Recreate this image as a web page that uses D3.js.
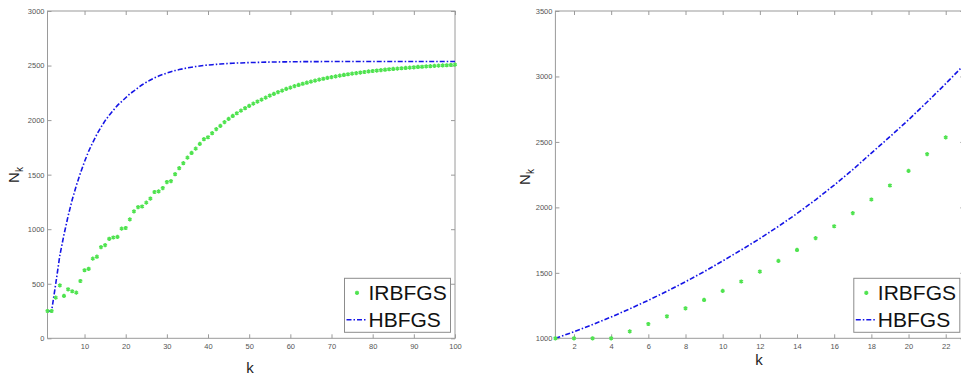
<!DOCTYPE html>
<html>
<head>
<meta charset="utf-8">
<script src="https://cdn.jsdelivr.net/npm/d3@7"></script>
<style>
  body { margin: 0; background: #fff; }
  svg { display: block; font-family: "Liberation Sans", Arial, sans-serif; }
</style>
</head>
<body>
<svg width="961" height="375"></svg>
<script>
// values, k = 1, 2, 3 ...
let irbfgsLeft = [
  250, 250, 373, 485, 389, 449, 431, 419, 525, 624,
  637, 730, 748, 836, 854, 912, 924, 930, 1005, 1011,
  1090, 1163, 1202, 1208, 1244, 1281, 1341, 1347, 1377, 1432,
  1441, 1504, 1559, 1605, 1656, 1699, 1739, 1782, 1825, 1843,
  1880, 1917, 1947, 1981, 2011, 2038, 2063, 2087, 2109, 2130,
  2151, 2170, 2188, 2206, 2225, 2240, 2256, 2270, 2286, 2298,
  2311, 2322, 2333, 2343, 2353, 2362, 2371, 2379, 2387, 2394,
  2401, 2408, 2414, 2420, 2426, 2431, 2436, 2441, 2446, 2450,
  2454, 2458, 2462, 2466, 2469, 2472, 2475, 2478, 2481, 2484,
  2487, 2489, 2492, 2494, 2497, 2499, 2501, 2503, 2505, 2508
];
let hbfgsLeft = [
  250, 250, 500, 760, 950, 1120, 1270, 1400, 1515, 1620,
  1715, 1795, 1870, 1935, 1995, 2045, 2090, 2135, 2170, 2205,
  2240, 2267, 2297, 2324, 2347, 2368, 2387, 2404, 2418, 2432,
  2443, 2454, 2463, 2471, 2479, 2485, 2491, 2496, 2501, 2505,
  2508, 2511, 2514, 2517, 2519, 2521, 2523, 2524, 2526, 2527,
  2528, 2529, 2530, 2531, 2532, 2533, 2533, 2534, 2534, 2535,
  2535, 2535, 2536, 2536, 2536, 2536, 2536, 2537, 2537, 2537,
  2537, 2537, 2537, 2537, 2537, 2537, 2537, 2537, 2537, 2537,
  2537, 2537, 2537, 2537, 2537, 2537, 2537, 2537, 2537, 2537,
  2537, 2537, 2537, 2537, 2537, 2537, 2537, 2537, 2537, 2537
];
let irbfgsRight = [
  1000, 1000, 1000, 1000, 1053, 1109, 1168, 1229, 1293, 1362,
  1434, 1510, 1591, 1675, 1765, 1856, 1956, 2060, 2167, 2279,
  2407, 2535, 2669
];
let hbfgsRight = [
  1000, 1050, 1105, 1163, 1225, 1290, 1359, 1432, 1509, 1591,
  1675, 1762, 1855, 1953, 2058, 2170, 2288, 2415, 2540, 2669,
  2805, 2945, 3090
];

let legendNames = ['IRBFGS', 'HBFGS'];
let leftXTicks = [10, 20, 30, 40, 50, 60, 70, 80, 90, 100];
let leftYTicks = [0, 500, 1000, 1500, 2000, 2500, 3000];
let rightXTicks = [2, 4, 6, 8, 10, 12, 14, 16, 18, 20, 22];
let rightYTicks = [1000, 1500, 2000, 2500, 3000, 3500];

let green = '#4fe34f';
let blue = '#1515e6';
let axisGrey = '#9a9a9a';

let svg = d3.select('svg');

drawPanel({
  id: 'left', x0: 47.5, x1: 455, y0: 11, y1: 338.3,
  xDomain: [1, 100], yDomain: [0, 3000],
  xTicks: leftXTicks, yTicks: leftYTicks,
  dots: irbfgsLeft, line: hbfgsLeft,
  kLabel: [250, 373], nLabel: [19, 175]
});
drawPanel({
  id: 'right', x0: 555.4, x1: 964.3, y0: 11, y1: 338.3,
  xDomain: [1, 23], yDomain: [1000, 3500],
  xTicks: rightXTicks, yTicks: rightYTicks,
  dots: irbfgsRight, line: hbfgsRight,
  kLabel: [759, 365], nLabel: [530, 177]
});

function drawPanel(p) {
  let x = d3.scaleLinear().domain(p.xDomain).range([p.x0, p.x1]);
  let y = d3.scaleLinear().domain(p.yDomain).range([p.y1, p.y0]);
  let g = svg.append('g');
  let fmt = d3.format('d');

  /* clip to the axes box */
  svg.append('clipPath').attr('id', 'clip-' + p.id)
    .append('rect').attr('x', p.x0).attr('y', p.y0)
    .attr('width', p.x1 - p.x0).attr('height', p.y1 - p.y0);

  /* inward ticks on all four sides, labels only bottom and left */
  g.append('g').attr('transform', 'translate(0,' + p.y1 + ')')
    .call(d3.axisBottom(x).tickValues(p.xTicks).tickFormat(fmt).tickSize(-4).tickSizeOuter(0).tickPadding(5));
  g.append('g').attr('transform', 'translate(' + p.x0 + ',0)')
    .call(d3.axisLeft(y).tickValues(p.yTicks).tickFormat(fmt).tickSize(-4).tickSizeOuter(0).tickPadding(3));
  g.append('g').attr('transform', 'translate(0,' + p.y0 + ')')
    .call(d3.axisTop(x).tickValues(p.xTicks).tickSize(-4).tickSizeOuter(0).tickFormat(''));
  g.append('g').attr('transform', 'translate(' + p.x1 + ',0)')
    .call(d3.axisRight(y).tickValues(p.yTicks).tickSize(-4).tickSizeOuter(0).tickFormat(''));

  g.selectAll('.domain').remove();
  g.selectAll('.tick line').attr('stroke', axisGrey);
  g.selectAll('.tick text').attr('fill', '#555').attr('font-size', 7.5)
    .attr('font-family', '"Liberation Sans", Arial, sans-serif');

  g.append('rect').attr('x', p.x0).attr('y', p.y0)
    .attr('width', p.x1 - p.x0).attr('height', p.y1 - p.y0)
    .attr('fill', 'none').attr('stroke', axisGrey).attr('stroke-width', 1);

  /* HBFGS dash-dot line */
  let line = d3.line().x((d, i) => x(i + 1)).y(d => y(d));
  g.append('path').datum(p.line)
    .attr('d', line)
    .attr('fill', 'none')
    .attr('stroke', blue)
    .attr('stroke-width', 1.6)
    .attr('stroke-dasharray', '5,2,1.5,2')
    .attr('clip-path', 'url(#clip-' + p.id + ')');

  /* IRBFGS star markers */
  let star = d3.symbol().type(d3.symbolAsterisk).size(12);
  g.append('g').selectAll('path').data(p.dots).enter().append('path')
    .attr('transform', (d, i) => 'translate(' + x(i + 1) + ',' + y(d) + ')')
    .attr('d', star)
    .attr('fill', 'none')
    .attr('stroke', green)
    .attr('stroke-width', 1.5);

  /* axis titles */
  g.append('text').attr('x', p.kLabel[0]).attr('y', p.kLabel[1])
    .attr('text-anchor', 'middle').attr('font-size', 15).attr('fill', '#222')
    .text('k');
  let nt = g.append('text')
    .attr('transform', 'translate(' + p.nLabel[0] + ',' + p.nLabel[1] + ') rotate(-90)')
    .attr('text-anchor', 'middle').attr('font-size', 15).attr('fill', '#222');
  nt.append('tspan').text('N');
  nt.append('tspan').attr('font-size', 10).attr('dy', 4).text('k');

  /* legend */
  let lw = 106, lh = 54;
  let lx = p.x1 - 4.5 - lw, ly = 278.3;
  let lg = g.append('g').attr('transform', 'translate(' + lx + ',' + ly + ')');
  lg.append('rect').attr('width', lw).attr('height', lh)
    .attr('fill', '#fff').attr('stroke', '#8c8c8c').attr('stroke-width', 1);
  lg.append('path').attr('transform', 'translate(12.5,14.5)')
    .attr('d', star).attr('fill', 'none').attr('stroke', green).attr('stroke-width', 1.5);
  lg.append('line').attr('x1', 2).attr('x2', 22).attr('y1', 41.5).attr('y2', 41.5)
    .attr('stroke', blue).attr('stroke-width', 1.6).attr('stroke-dasharray', '5,2,1.5,2');
  lg.selectAll('text.name').data(legendNames).enter().append('text')
    .attr('class', 'name')
    .attr('x', 24).attr('y', (d, i) => 22 + i * 27)
    .attr('font-size', 21).attr('fill', '#111')
    .text(d => d);
}
</script>
</body>
</html>
